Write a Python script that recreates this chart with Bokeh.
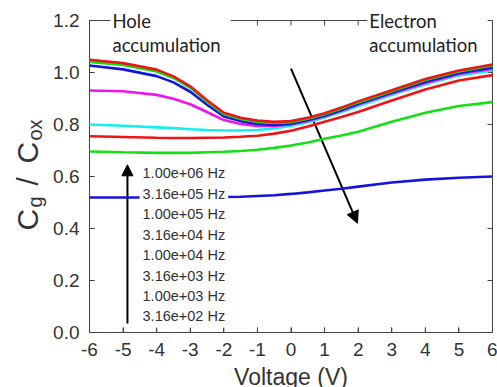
import math
from bokeh.plotting import figure
from bokeh.models import (Range1d, FixedTicker, NumeralTickFormatter,
                          Arrow, NormalHead, ColumnDataSource)
from bokeh.core.properties import value
from bokeh.embed import file_html
from bokeh.resources import INLINE

# Gate voltage sweep (V)
voltage = [-6, -5, -4, -3.5, -3, -2.5, -2, -1.5, -1, -0.5, 0, 0.5, 1, 1.5, 2, 3, 4, 5, 6]

# Normalised gate capacitance Cg/Cox for each measurement frequency
c_316e2 = [1.049, 1.036, 1.011, 0.985, 0.947, 0.893, 0.845, 0.826, 0.815, 0.810, 0.813, 0.826, 0.843, 0.865, 0.889, 0.932, 0.975, 1.008, 1.031]
c_100e3 = [1.041, 1.029, 1.004, 0.979, 0.941, 0.888, 0.840, 0.821, 0.810, 0.806, 0.809, 0.822, 0.839, 0.861, 0.885, 0.928, 0.971, 1.004, 1.027]
c_316e3 = [1.027, 1.012, 0.986, 0.962, 0.926, 0.876, 0.831, 0.813, 0.802, 0.798, 0.803, 0.817, 0.834, 0.856, 0.880, 0.923, 0.964, 0.998, 1.019]
c_100e4 = [0.931, 0.928, 0.914, 0.899, 0.878, 0.848, 0.817, 0.802, 0.794, 0.794, 0.801, 0.814, 0.832, 0.853, 0.877, 0.919, 0.960, 0.994, 1.015]
c_316e4 = [0.800, 0.795, 0.789, 0.786, 0.782, 0.779, 0.777, 0.777, 0.779, 0.785, 0.795, 0.809, 0.827, 0.848, 0.871, 0.914, 0.955, 0.989, 1.008]
c_100e5 = [0.755, 0.752, 0.749, 0.748, 0.748, 0.749, 0.750, 0.753, 0.757, 0.765, 0.776, 0.792, 0.811, 0.829, 0.848, 0.892, 0.935, 0.969, 0.990]
c_316e5 = [0.696, 0.693, 0.691, 0.691, 0.691, 0.693, 0.695, 0.698, 0.703, 0.710, 0.719, 0.731, 0.745, 0.758, 0.772, 0.811, 0.845, 0.871, 0.886]
c_100e6 = [0.519, 0.519, 0.519, 0.519, 0.520, 0.520, 0.521, 0.522, 0.525, 0.528, 0.533, 0.539, 0.546, 0.553, 0.561, 0.577, 0.588, 0.595, 0.600]

# Frequency labels, highest frequency first, and their stacking positions
freq_labels = ["1.00e+06 Hz", "3.16e+05 Hz", "1.00e+05 Hz", "3.16e+04 Hz",
               "1.00e+04 Hz", "3.16e+03 Hz", "1.00e+03 Hz", "3.16e+02 Hz"]
freq_label_x = -4.51
freq_label_y = [0.612, 0.533, 0.455, 0.376, 0.297, 0.219, 0.140, 0.062]

x_ticks = [-6, -5, -4, -3, -2, -1, 0, 1, 2, 3, 4, 5, 6]
y_ticks = [0.0, 0.2, 0.4, 0.6, 0.8, 1.0, 1.2]

# Curves drawn from highest to lowest frequency so the low-frequency trace sits on top
curves = [
    (c_100e6, "#1414dc"),
    (c_316e5, "#14e014"),
    (c_100e5, "#ee1414"),
    (c_316e4, "#14eef0"),
    (c_100e4, "#ee14ee"),
    (c_316e3, "#1414dc"),
    (c_100e3, "#14e014"),
    (c_316e2, "#e81818"),
]

AX = "#444444"
TXT = "#333333"
TICK_FONT = "Liberation Sans"
X0, X1, Y0, Y1 = -6, 6, 0.0, 1.2

p = figure(width=497, height=387, output_backend="svg", toolbar_location=None,
           x_range=Range1d(X0, X1), y_range=Range1d(Y0, Y1),
           min_border_left=89, min_border_right=5, min_border_top=20, min_border_bottom=55,
           background_fill_color=None, border_fill_color=None,
           outline_line_color=AX, outline_line_width=1)
p.grid.visible = False

for ax in (p.xaxis[0], p.yaxis[0]):
    ax.axis_line_color = AX
    ax.major_tick_line_color = AX
    ax.major_tick_in = 5
    ax.major_tick_out = 0
    ax.minor_tick_line_color = None
    ax.major_label_text_font = TICK_FONT
    ax.major_label_text_font_size = "19px"
    ax.major_label_text_color = TXT

p.xaxis.ticker = FixedTicker(ticks=x_ticks)
p.xaxis.formatter = NumeralTickFormatter(format="0")
p.xaxis.major_label_standoff = 10
p.yaxis.ticker = FixedTicker(ticks=y_ticks)
p.yaxis.formatter = NumeralTickFormatter(format="0.0")
p.yaxis.major_label_standoff = 10

# Inward tick marks on all four sides of the frame
tx = 5 / 33.6 * (X1 - X0) / 12
ty = 5 / 260 * (Y1 - Y0) / 1.2
p.segment(x0=x_ticks, y0=[Y0] * len(x_ticks), x1=x_ticks, y1=[Y0 + ty] * len(x_ticks),
          line_color=AX, line_width=1, level="overlay")
p.segment(x0=x_ticks, y0=[Y1] * len(x_ticks), x1=x_ticks, y1=[Y1 - ty] * len(x_ticks),
          line_color=AX, line_width=1, level="overlay")
p.segment(x0=[X0] * len(y_ticks), y0=y_ticks, x1=[X0 + tx] * len(y_ticks), y1=y_ticks,
          line_color=AX, line_width=1, level="overlay")
p.segment(x0=[X1] * len(y_ticks), y0=y_ticks, x1=[X1 - tx] * len(y_ticks), y1=y_ticks,
          line_color=AX, line_width=1, level="overlay")

# Region labels, boxed in white so they interrupt the top frame line (traces drawn above)
p.text(x=[-5.375, 2.274], y=[1.2423, 1.2423], text=["Hole\naccumulation", "Electron\naccumulation"],
       text_font=value("Lato"), text_font_size="18.5px", text_color="#222222",
       text_baseline="top", text_align="left", text_line_height=1.12,
       background_fill_color="white", padding=[2, 10, 0, 10], level="overlay")

# Traces
for ys, color in curves:
    p.line(voltage, ys, line_color=color, line_width=2.6, level="overlay")

# Frequency list with white boxes so the traces pass behind the text
src = ColumnDataSource(dict(x=[freq_label_x] * len(freq_labels), y=freq_label_y, t=freq_labels))
p.text(x="x", y="y", text="t", source=src, text_font=value(TICK_FONT),
       text_font_size="14.5px", text_color=TXT, text_baseline="middle",
       text_align="left", background_fill_color="white", padding=3, level="overlay")

# Direction-of-frequency arrows
p.add_layout(Arrow(x_start=-4.87, y_start=0.035, x_end=-4.87, y_end=0.645,
                   line_color="black", line_width=2,
                   end=NormalHead(size=11, fill_color="black", line_color="black")))
p.add_layout(Arrow(x_start=0.0, y_start=1.015, x_end=1.98, y_end=0.42,
                   line_color="black", line_width=2,
                   end=NormalHead(size=12, fill_color="black", line_color="black")))

# Axis titles
p.text(x=[0.0], y=[-0.173], text=["Voltage (V)"], text_font=value(TICK_FONT),
       text_font_size="23px", text_color=TXT, text_align="center",
       text_baseline="alphabetic", level="overlay")

yl_text = ["C", "g", "/", "C", "ox"]
yl_x = [-7.845, -7.637, -7.845, -7.845, -7.637]
yl_y = [0.392, 0.481, 0.565, 0.650, 0.738]
yl_size = ["30px", "20px", "30px", "30px", "20px"]
p.text(x=yl_x, y=yl_y, text=yl_text, angle=math.pi / 2, text_font=value(TICK_FONT),
       text_font_size=yl_size, text_color=TXT, text_align="left",
       text_baseline="alphabetic", level="overlay")

open("out.html", "w").write(file_html(p, INLINE))
